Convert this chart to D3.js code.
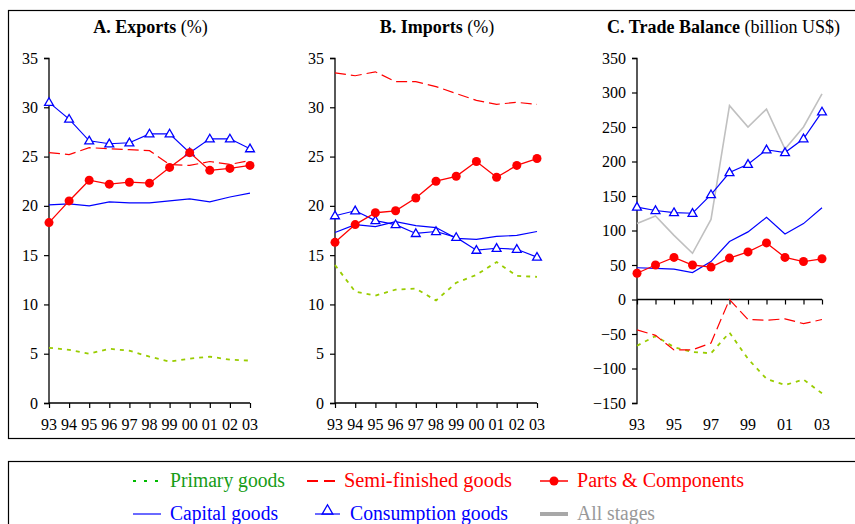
<!DOCTYPE html>
<html><head><meta charset="utf-8">
<script src="https://cdn.jsdelivr.net/npm/d3@7"></script>
<style>
html,body{margin:0;padding:0;background:#fff;}
svg{display:block;}
</style></head>
<body>
<svg id="c" width="855" height="524" font-family="Liberation Serif"></svg>
<script>
const years = ["93","94","95","96","97","98","99","00","01","02","03"];

// Panel A: Exports (%)
const expPrimary     = [5.6,5.4,5.0,5.5,5.3,4.7,4.2,4.5,4.7,4.4,4.3];
const expSemi        = [25.4,25.2,25.9,25.8,25.7,25.6,24.2,24.1,24.5,24.2,24.6];
const expParts       = [18.3,20.5,22.6,22.2,22.4,22.3,23.9,25.4,23.6,23.8,24.1];
const expCapital     = [20.1,20.2,20.0,20.4,20.3,20.3,20.5,20.7,20.4,20.9,21.3];
const expConsumption = [30.5,28.8,26.6,26.3,26.4,27.3,27.3,25.4,26.8,26.8,25.8];

// Panel B: Imports (%)
const impPrimary     = [14.0,11.3,10.9,11.5,11.6,10.4,12.2,13.0,14.3,12.9,12.8];
const impSemi        = [33.5,33.2,33.6,32.6,32.6,32.1,31.4,30.7,30.3,30.5,30.3];
const impParts       = [16.3,18.1,19.3,19.5,20.8,22.5,23.0,24.5,22.9,24.1,24.8];
const impCapital     = [17.3,18.1,17.9,18.4,18.0,17.8,16.7,16.6,16.9,17.0,17.4];
const impConsumption = [19.0,19.5,18.5,18.1,17.2,17.4,16.8,15.5,15.7,15.6,14.8];

// Panel C: Trade balance (billion US$)
const balPrimary     = [-67,-53,-69,-76,-78,-48,-86,-115,-124,-116,-136];
const balSemi        = [-44,-52,-73,-73,-63,0,-29,-30,-28,-35,-29];
const balParts       = [38,50,61,50,47,60,69,82,61,55,59];
const balCapital     = [46,45,44,39,55,84,98,119,95,110,133];
const balConsumption = [134,129,126,125,152,184,196,217,213,233,272];
const balAll         = [110,121,93,67,116,281,250,276,218,250,298];

const pctTicks = [0,5,10,15,20,25,30,35];
const balTicks = [-150,-100,-50,0,50,100,150,200,250,300,350];
const balXLabels = ["93","95","97","99","01","03"];

const legendItems = ["Primary goods","Semi-finished goods","Parts & Components","Capital goods","Consumption goods","All stages"];

const COL = {primary:"#99cc00", semi:"#ff0000", parts:"#ff0000", capital:"#0000ff", consumption:"#0000ff", all:"#c0c0c0"};
const FF = "Liberation Serif";

const svg = d3.select("#c");

// frames
svg.append("rect").attr("x",8.5).attr("y",10.5).attr("width",900).attr("height",428)
  .attr("fill","none").attr("stroke","#000").attr("stroke-width",1.2);
svg.append("rect").attr("x",8.5).attr("y",461.5).attr("width",900).attr("height",100)
  .attr("fill","none").attr("stroke","#000").attr("stroke-width",1.2);

function panel(cfg){
  const g = svg.append("g").attr("font-family",FF);
  const x = d3.scalePoint().domain(years).range([cfg.x0,cfg.x1]);
  const y = d3.scaleLinear().domain(cfg.domain).range([403,58]);

  // title
  const t = g.append("text").attr("x",(cfg.x0+cfg.x1)/2 + (cfg.tdx||0)).attr("y",33)
    .attr("text-anchor","middle").attr("font-size",18).attr("fill","#000").attr("font-family",FF);
  t.append("tspan").attr("font-weight","bold").text(cfg.bold);
  t.append("tspan").text(cfg.rest);

  // y axis
  const ya = d3.axisLeft(y).tickValues(cfg.yticks).tickSize(5).tickPadding(6).tickFormat(d3.format("d"));
  const yg = g.append("g").attr("transform",`translate(${cfg.x0},0)`).call(ya);
  yg.attr("font-family",FF);
  yg.select(".domain").attr("stroke","#000").attr("stroke-width",1.3).attr("d",`M-5,58.5H0V403.5H-5`);
  yg.selectAll(".tick line").attr("stroke","#000").attr("stroke-width",1.2);
  yg.selectAll("text").attr("font-size",16).attr("fill","#000").attr("font-family",FF);

  // x axis line at zero
  const xa = d3.axisBottom(x).tickSize(5).tickFormat("");
  const xg = g.append("g").attr("transform",`translate(0,${y(0)})`).call(xa);
  xg.select(".domain").attr("stroke","#000").attr("stroke-width",1.3).attr("d",`M${cfg.x0},0H${cfg.x1}`);
  xg.selectAll(".tick line").attr("stroke","#000").attr("stroke-width",1.2);

  // x labels at bottom
  g.append("g").selectAll("text").data(cfg.xlabels).join("text")
    .attr("x",d=>x(d)).attr("y",430).attr("text-anchor","middle").attr("font-family",FF)
    .attr("font-size",16).attr("fill","#000").text(d=>d);

  const line = d3.line().x((d,i)=>x(years[i])).y(d=>y(d));

  function draw(vals,color,opts){
    const p = g.append("path").datum(vals).attr("d",line).attr("fill","none")
      .attr("stroke",color).attr("stroke-width",opts.w||1.2);
    if(opts.dash) p.attr("stroke-dasharray",opts.dash);
    if(opts.marker==="circle"){
      g.append("g").selectAll("circle").data(vals).join("circle")
        .attr("cx",(d,i)=>x(years[i])).attr("cy",d=>y(d)).attr("r",4.5).attr("fill",color);
    }
    if(opts.marker==="tri"){
      g.append("g").selectAll("path").data(vals).join("path")
        .attr("d",d3.symbol(d3.symbolTriangle,34))
        .attr("transform",(d,i)=>`translate(${x(years[i])},${y(d)+0.5})`)
        .attr("fill","#fff").attr("stroke",color).attr("stroke-width",1.3);
    }
  }
  if(cfg.all) draw(cfg.all,COL.all,{w:1.6});
  draw(cfg.primary,COL.primary,{w:1.8,dash:"4,5"});
  draw(cfg.semi,COL.semi,{w:1.2,dash:"11,5"});
  draw(cfg.capital,COL.capital,{w:1.2});
  draw(cfg.consumption,COL.consumption,{w:1.2,marker:"tri"});
  draw(cfg.parts,COL.parts,{w:1.3,marker:"circle"});
}

panel({x0:49,x1:250,domain:[0,35],yticks:pctTicks,xlabels:years,bold:"A. Exports",rest:" (%)",
  primary:expPrimary,semi:expSemi,parts:expParts,capital:expCapital,consumption:expConsumption,tdx:1});
panel({x0:335,x1:537,domain:[0,35],yticks:pctTicks,xlabels:years,bold:"B. Imports",rest:" (%)",
  primary:impPrimary,semi:impSemi,parts:impParts,capital:impCapital,consumption:impConsumption,tdx:1});
panel({x0:637,x1:822,domain:[-150,350],yticks:balTicks,xlabels:balXLabels,bold:"C. Trade Balance",rest:" (billion US$)",
  primary:balPrimary,semi:balSemi,parts:balParts,capital:balCapital,consumption:balConsumption,all:balAll,tdx:-6});

// legend
const L = svg.append("g").attr("font-size",20).attr("font-family",FF);
const lx = [133,307,540,133,315,540];
const ly = [481,481,481,514,514,514];
const lw = [115,168,167,108,158,78];
const lcol = ["#169c16","#ff0000","#ff0000","#0000ff","#0000ff","#999999"];
legendItems.forEach((name,i)=>{
  const sx = lx[i], sy = ly[i];
  const len = i===4 ? 25 : 28;
  if(i===0){
    L.append("line").attr("x1",sx).attr("x2",sx+len).attr("y1",sy).attr("y2",sy)
      .attr("stroke","#00bb00").attr("stroke-width",2).attr("stroke-dasharray","3,8");
  } else if(i===1){
    L.append("line").attr("x1",sx).attr("x2",sx+len).attr("y1",sy).attr("y2",sy)
      .attr("stroke","#ff0000").attr("stroke-width",2.2).attr("stroke-dasharray","11,6");
  } else if(i===2){
    L.append("line").attr("x1",sx).attr("x2",sx+len).attr("y1",sy).attr("y2",sy)
      .attr("stroke","#ff0000").attr("stroke-width",1.5);
    L.append("circle").attr("cx",sx+len/2).attr("cy",sy).attr("r",4.5).attr("fill","#ff0000");
  } else if(i===3){
    L.append("line").attr("x1",sx).attr("x2",sx+len).attr("y1",sy).attr("y2",sy)
      .attr("stroke","#6a6aff").attr("stroke-width",2);
  } else if(i===4){
    L.append("line").attr("x1",sx).attr("x2",sx+len).attr("y1",sy).attr("y2",sy)
      .attr("stroke","#6a6aff").attr("stroke-width",2);
    L.append("path").attr("d",d3.symbol(d3.symbolTriangle,50))
      .attr("transform",`translate(${sx+len/2},${sy-3})`).attr("fill","none")
      .attr("stroke","#0000ff").attr("stroke-width",1.3);
  } else {
    L.append("line").attr("x1",sx).attr("x2",sx+len).attr("y1",sy).attr("y2",sy)
      .attr("stroke","#a8a8a8").attr("stroke-width",4);
  }
  const tx = sx + len + (i===4?10:9);
  L.append("text").attr("x",tx).attr("y",sy+6).attr("fill",lcol[i]).attr("font-family",FF)
    .attr("textLength",lw[i]).attr("lengthAdjust","spacingAndGlyphs").text(name);
});
</script>
</body></html>
